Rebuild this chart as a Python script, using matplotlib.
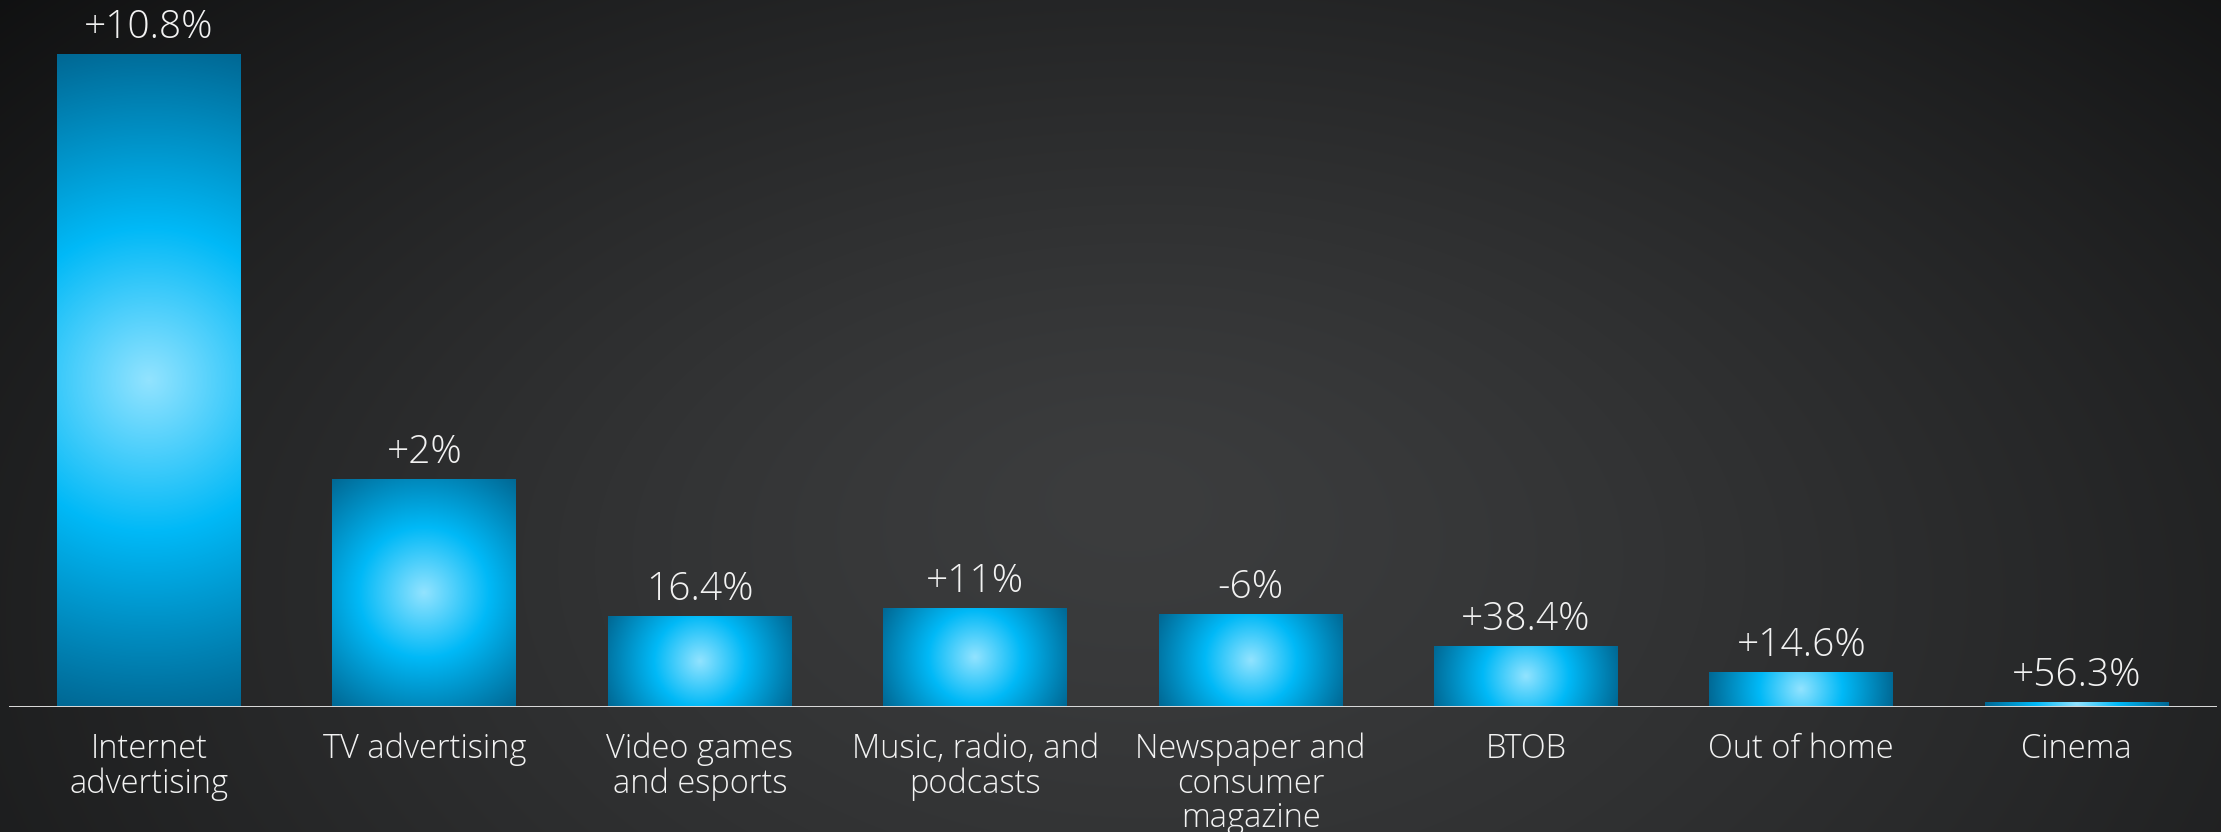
import numpy as np
import matplotlib
matplotlib.use("Agg")
import matplotlib.pyplot as plt
from matplotlib.colors import LinearSegmentedColormap

# ad spend by segment (bar heights) and year-on-year growth shown above each bar
categories = ["Internet\nadvertising", "TV advertising", "Video games\nand esports",
              "Music, radio, and\npodcasts", "Newspaper and\nconsumer\nmagazine",
              "BTOB", "Out of home", "Cinema"]
spend = [9.80, 3.41, 1.34, 1.47, 1.37, 0.90, 0.50, 0.06]
growth_labels = ["+10.8%", "+2%", "16.4%", "+11%", "-6%", "+38.4%", "+14.6%", "+56.3%"]

W, H, DPI = 2221, 832, 100
plt.rcParams['font.family'] = ['Open Sans', 'DejaVu Sans']

fig = plt.figure(figsize=(W / DPI, H / DPI), dpi=DPI)

# dark backdrop, lighter towards the middle
bg = fig.add_axes([0, 0, 1, 1], zorder=-10)
yy, xx = np.mgrid[0:H, 0:W]
r = np.sqrt(((xx - 1120) / 1500.0) ** 2 + ((yy - 480) / 900.0) ** 2)
lum = 0.208 - 0.16 * np.clip(r, 0, 1) ** 1.3
lum += 0.035 * (yy / H) + 0.012 * (xx / W)
rgb = np.dstack([lum, lum * 1.01 + 0.002, lum * 1.02 + 0.004])
bg.imshow(np.clip(rgb, 0, 1), extent=(0, 1, 0, 1), aspect='auto', origin='upper')
bg.set_axis_off()

base_px = 125.5
ax = fig.add_axes([0, base_px / H, 1, 1 - base_px / H])
ax.patch.set_alpha(0)
xlim = (-0.541, 7.524)
px_per_unit = 652 / 9.80
ylim = (0, (H - base_px) / px_per_unit)

x = np.arange(len(categories))
bar_w = 0.668
bars = ax.bar(x, spend, width=bar_w, color='none', edgecolor='none')

glow = LinearSegmentedColormap.from_list(
    "glow", [(0.0, "#92e3ff"), (0.45, "#00b9f7"), (1.0, "#006894")])

# circular glow per bar, reaching the darkest tone at the corners
px_per_x = W / (xlim[1] - xlim[0])
for rect in bars:
    x0, w, h = rect.get_x(), rect.get_width(), rect.get_height()
    w_px, h_px = w * px_per_x, h * px_per_unit
    nx, ny = max(int(w_px), 2), max(int(h_px), 2)
    u = (np.linspace(0, 1, nx) - 0.5) * w_px
    v = (np.linspace(0, 1, ny) - 0.5) * h_px
    U, V = np.meshgrid(u, v)
    rr = np.sqrt(U ** 2 + V ** 2) / (0.5 * np.hypot(w_px, h_px))
    ax.imshow(glow(np.clip(rr, 0, 1)), extent=(x0, x0 + w, 0, h),
              aspect='auto', origin='lower', interpolation='bilinear', zorder=2)

for xi, v, lab in zip(x, spend, growth_labels):
    ax.annotate(lab, xy=(xi, v), xytext=(0, 17 * 72 / DPI), textcoords='offset points',
                ha='center', va='baseline', color='#f2f2f2', fontsize=28,
                fontweight='light')

for xi, cat in zip(x, categories):
    ax.annotate(cat, xy=(xi, 0), xytext=(0, -26 * 72 / DPI), textcoords='offset points',
                ha='center', va='top', color='#f2f2f2', fontsize=23.5,
                fontweight='light', linespacing=1.04, annotation_clip=False)

ax.axhline(0, xmin=10 / W, xmax=2215 / W, color='#d8d8d8', linewidth=3 * 72 / DPI, zorder=3)

ax.set_xlim(xlim)
ax.set_ylim(ylim)
ax.set_axis_off()

fig.savefig("out.png", dpi=DPI)
